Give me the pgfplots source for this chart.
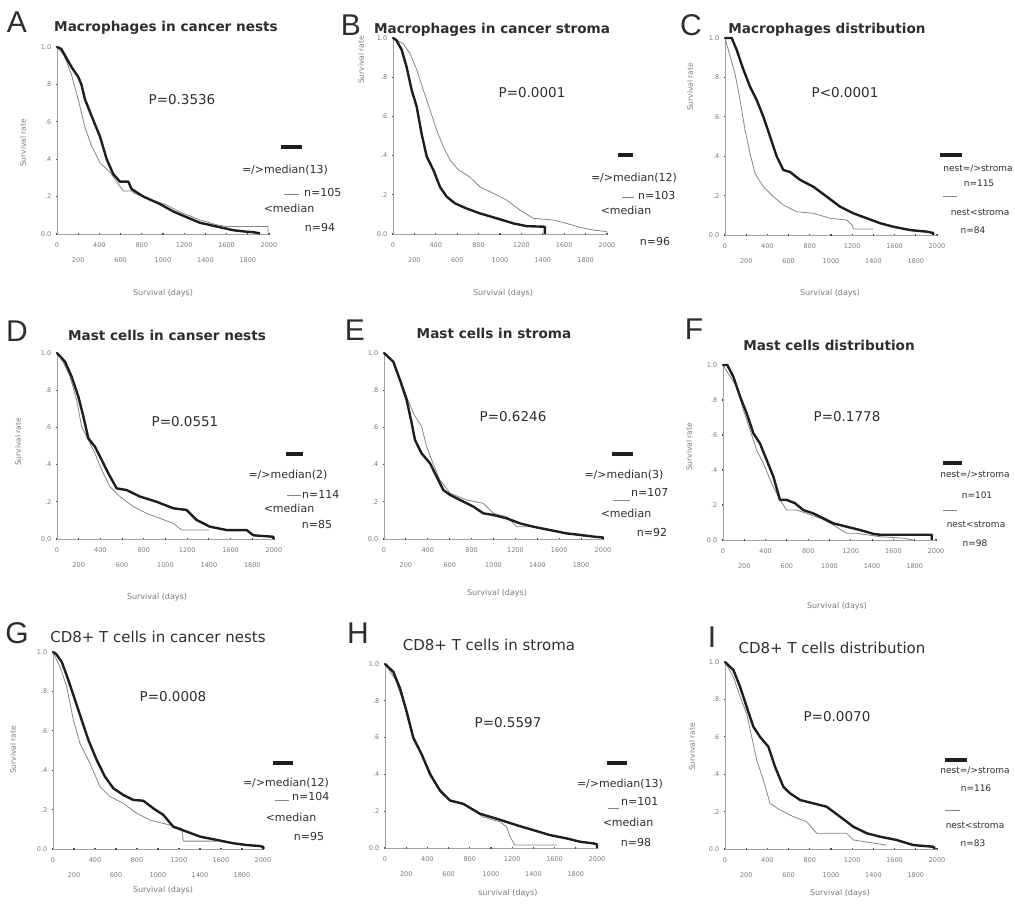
\documentclass[border=0pt]{standalone}
\usepackage{fontspec}
\setmainfont{DejaVu Sans}
\newfontfamily\letterfont{Liberation Sans}
\usepackage{pgfplots}
\pgfplotsset{compat=1.18}
\definecolor{thk}{HTML}{1E1E1E}
\definecolor{thn}{HTML}{858585}
\definecolor{axc}{HTML}{A0A0A0}
\definecolor{txt}{HTML}{2E2E2E}
\definecolor{lbl}{HTML}{7A7A7A}
\pgfplotsset{
  km/.style={scale only axis, anchor=south west,
    xmin=0, xmax=2000, ymin=0, ymax=1, clip=false,
    axis lines=left, axis line style={-, draw=axc, line width=0.9pt},
    xtick={0,400,800,1200,1600,2000}, xticklabels={0,400,800,1200,1600,2000},
    extra x ticks={200,600,1000,1400,1800}, extra x tick labels={200,600,1000,1400,1800},
    extra x tick style={tick label style={yshift=-15pt}},
    ytick={0,0.2,0.4,0.6,0.8,1}, yticklabels={0.0,.2,.4,.6,.8,1.0},
    tick style={draw=black!70, line width=1.1pt}, major tick length=2.5pt, tick align=center,
    tick label style={font=\fontsize{6.5}{7}\selectfont, text=lbl},
    xticklabel style={yshift=-4pt}, yticklabel style={xshift=-1pt}},
  thk/.style={draw=thk, line width=2.4pt, line join=round, sharp plot},
  thn/.style={draw=thn, line width=0.8pt, line join=round, sharp plot}
}
\newcommand{\Let}[3]{\node[font=\letterfont\fontsize{30}{30}\selectfont, text=txt] at (#1,#2) {#3};}
\newcommand{\Tb}[3]{\node[font=\bfseries\fontsize{13.6}{15}\selectfont, text=txt] at (#1,#2) {#3};}
\newcommand{\Tr}[3]{\node[font=\fontsize{15}{17}\selectfont, text=txt] at (#1,#2) {#3};}
\newcommand{\Pv}[3]{\node[font=\fontsize{13.5}{15}\selectfont, text=txt] at (#1,#2) {#3};}
\newcommand{\Lg}[3]{\node[font=\fontsize{11}{12}\selectfont, text=txt] at (#1,#2) {#3};}
\newcommand{\Lgw}[3]{\node[font=\fontsize{11}{12}\selectfont, text=txt, anchor=west, inner sep=0pt] at (#1,#2) {#3};}
\newcommand{\Ln}[3]{\node[font=\fontsize{9}{10}\selectfont, text=txt, inner sep=1pt] at (#1,#2) {#3};}
\newcommand{\Yl}[2]{\node[font=\fontsize{7.5}{8}\selectfont, text=lbl, rotate=90] at (#1,#2) {Survival rate};}
\newcommand{\Xl}[3]{\node[font=\fontsize{8}{9}\selectfont, text=lbl] at (#1,#2) {#3};}
\newcommand{\Bk}[3]{\draw[thk, line width=3.5pt] (#1,#3) -- (#2,#3);}
\newcommand{\Bn}[3]{\draw[thn, line width=0.9pt] (#1,#3) -- (#2,#3);}
\begin{document}
\begin{tikzpicture}
\path[use as bounding box] (0pt,0pt) rectangle (1015pt,912pt);
% ---------- A
\begin{axis}[km, at={(57pt,678pt)}, width=212pt, height=187pt]
\addplot[thn] coordinates {(0,1)(60,0.96)(91,0.92)(138,0.85)(200,0.72)(264,0.57)(327,0.47)(406,0.38)(500,0.33)(563,0.28)(626,0.23)(704,0.23)(720,0.22)(850,0.19)(1035,0.155)(1150,0.12)(1349,0.075)(1500,0.05)(1600,0.04)(1990,0.04)(1990,0)};
\addplot[thk] coordinates {(0,1)(40,0.99)(80,0.95)(140,0.89)(200,0.84)(230,0.80)(264,0.72)(327,0.63)(406,0.52)(469,0.40)(531,0.32)(594,0.28)(673,0.28)(704,0.24)(815,0.20)(972,0.16)(1098,0.12)(1223,0.09)(1349,0.06)(1506,0.04)(1664,0.02)(1790,0.012)(1850,0.01)(1915,0.003)};
\end{axis}
% ---------- B
\begin{axis}[km, at={(393pt,678pt)}, width=214pt, height=196pt]
\addplot[thn] coordinates {(0,1)(97,0.97)(159,0.92)(221,0.84)(283,0.735)(346,0.633)(408,0.53)(470,0.446)(533,0.378)(611,0.327)(720,0.29)(813,0.24)(938,0.207)(1062,0.173)(1187,0.122)(1311,0.08)(1498,0.071)(1623,0.054)(1747,0.034)(1872,0.02)(1997,0.012)(1997,0)};
\addplot[thk] coordinates {(0,1)(30,0.99)(81,0.94)(128,0.85)(174,0.735)(221,0.65)(268,0.51)(315,0.395)(377,0.327)(439,0.24)(502,0.19)(580,0.156)(688,0.13)(813,0.105)(969,0.08)(1125,0.054)(1250,0.04)(1420,0.037)(1420,0)};
\end{axis}
% ---------- C
\begin{axis}[km, at={(725pt,677pt)}, width=212pt, height=197pt]
\addplot[thn] coordinates {(0,1)(31,0.94)(94,0.82)(142,0.685)(189,0.533)(236,0.415)(283,0.313)(362,0.245)(456,0.195)(550,0.152)(676,0.118)(833,0.11)(991,0.085)(1148,0.076)(1200,0.05)(1210,0.03)(1400,0.03)};
\addplot[thk] coordinates {(0,1)(63,1)(110,0.94)(173,0.84)(236,0.753)(299,0.685)(362,0.6)(425,0.5)(487,0.4)(550,0.33)(613,0.32)(708,0.28)(833,0.245)(959,0.195)(1085,0.144)(1211,0.11)(1337,0.085)(1462,0.06)(1588,0.042)(1745,0.025)(1903,0.017)(1965,0.01)(1965,0)};
\end{axis}
% ---------- D
\begin{axis}[km, at={(57pt,373pt)}, width=217pt, height=186pt]
\addplot[thn] coordinates {(0,1)(58,0.95)(120,0.873)(181,0.747)(227,0.604)(289,0.532)(350,0.46)(412,0.371)(488,0.281)(580,0.228)(703,0.174)(826,0.138)(949,0.111)(1072,0.084)(1149,0.048)(1400,0.048)};
\addplot[thk] coordinates {(0,1)(74,0.953)(135,0.873)(197,0.765)(243,0.658)(289,0.541)(350,0.496)(412,0.425)(473,0.353)(550,0.272)(642,0.263)(765,0.228)(919,0.2)(1072,0.165)(1195,0.156)(1287,0.102)(1410,0.066)(1564,0.048)(1748,0.048)(1809,0.02)(1994,0.012)(1994,0)};
\end{axis}
% ---------- E
\begin{axis}[km, at={(384pt,373pt)}, width=219pt, height=186pt]
\addplot[thn] coordinates {(0,1)(85,0.95)(146,0.86)(207,0.765)(268,0.676)(344,0.604)(390,0.496)(435,0.425)(511,0.317)(603,0.246)(755,0.21)(907,0.192)(998,0.138)(1120,0.12)(1211,0.066)(1364,0.066)(1486,0.048)(1668,0.03)(1851,0.013)};
\addplot[thk] coordinates {(0,1)(85,0.953)(146,0.855)(207,0.747)(253,0.622)(283,0.532)(344,0.46)(420,0.407)(481,0.335)(542,0.263)(603,0.237)(694,0.21)(816,0.174)(907,0.138)(998,0.129)(1120,0.111)(1242,0.084)(1364,0.066)(1516,0.048)(1668,0.03)(1790,0.022)(1912,0.013)(2000,0.008)(2000,0)};
\end{axis}
% ---------- F
\begin{axis}[km, at={(723pt,372pt)}, width=213pt, height=175pt]
\addplot[thn] coordinates {(0,1)(30,0.97)(128,0.876)(191,0.743)(254,0.629)(316,0.514)(379,0.438)(457,0.324)(535,0.229)(598,0.171)(692,0.171)(786,0.152)(911,0.124)(1036,0.086)(1161,0.038)(1255,0.038)(1474,0.019)(1700,0.01)(1787,0)};
\addplot[thk] coordinates {(0,1)(40,1)(97,0.933)(160,0.82)(222,0.724)(285,0.61)(347,0.552)(410,0.457)(473,0.362)(535,0.229)(598,0.229)(676,0.21)(754,0.171)(848,0.152)(942,0.124)(1036,0.095)(1161,0.076)(1286,0.057)(1412,0.035)(1474,0.03)(1960,0.03)(1960,0)};
\end{axis}
% ---------- G
\begin{axis}[km, at={(53pt,63pt)}, width=210pt, height=197pt]
\addplot[thn] coordinates {(0,1)(67,0.925)(130,0.824)(194,0.655)(257,0.536)(352,0.435)(448,0.316)(543,0.266)(670,0.232)(797,0.181)(924,0.147)(1051,0.13)(1225,0.105)(1241,0.04)(1560,0.04)};
\addplot[thk] coordinates {(0,1)(30,0.99)(83,0.95)(146,0.858)(210,0.756)(273,0.655)(337,0.553)(416,0.452)(495,0.367)(575,0.308)(670,0.274)(765,0.249)(860,0.245)(956,0.206)(1051,0.173)(1146,0.113)(1273,0.088)(1400,0.063)(1559,0.046)(1718,0.029)(1845,0.02)(1972,0.015)(2003,0.01)(2003,0)};
\end{axis}
% ---------- H
\begin{axis}[km, at={(385pt,64pt)}, width=212pt, height=184pt]
\addplot[thn] coordinates {(0,1)(94,0.92)(173,0.796)(236,0.652)(299,0.554)(393,0.455)(487,0.339)(613,0.258)(770,0.231)(928,0.168)(1085,0.142)(1148,0.115)(1179,0.061)(1226,0.016)(1620,0.016)};
\addplot[thk] coordinates {(0,1)(79,0.957)(142,0.867)(204,0.742)(267,0.599)(346,0.509)(425,0.401)(519,0.312)(613,0.258)(739,0.24)(896,0.186)(1054,0.159)(1242,0.124)(1400,0.097)(1557,0.07)(1714,0.052)(1840,0.034)(1966,0.025)(2000,0.02)(2000,0)};
\end{axis}
% ---------- I
\begin{axis}[km, at={(725pt,63pt)}, width=212pt, height=187pt]
\addplot[thn] coordinates {(0,1)(79,0.92)(142,0.815)(204,0.725)(252,0.6)(299,0.476)(362,0.369)(425,0.244)(519,0.209)(645,0.173)(770,0.146)(865,0.084)(1148,0.084)(1211,0.048)(1525,0.021)};
\addplot[thk] coordinates {(0,1)(79,0.957)(142,0.868)(204,0.761)(267,0.654)(330,0.6)(409,0.547)(472,0.44)(550,0.333)(613,0.298)(708,0.262)(833,0.244)(959,0.226)(1085,0.173)(1211,0.119)(1337,0.084)(1462,0.066)(1620,0.048)(1777,0.021)(1966,0.012)(1980,0)};
\end{axis}
% ---------- texts (pixel coordinates, y downward)
\begin{scope}[x=1pt, y=-1pt, yshift=912pt]
\Let{17}{22}{A}\Let{351}{25}{B}\Let{691}{25}{C}
\Let{17}{331}{D}\Let{355}{330}{E}\Let{694}{329}{F}
\Let{17}{633}{G}\Let{358}{633}{H}\Let{712}{637}{I}
\Tb{166}{28}{Macrophages in cancer nests}
\Tb{492}{30}{Macrophages in cancer stroma}
\Tb{827}{30}{Macrophages distribution}
\Tb{167}{335}{Mast cells in canser nests}
\Tb{494}{333}{Mast cells in stroma}
\Tb{829}{345}{Mast cells distribution}
\Tr{158}{637}{CD8+ T cells in cancer nests}
\Tr{489}{645}{CD8+ T cells in stroma}
\Tr{832}{648}{CD8+ T cells distribution}
\Pv{182}{100}{P=0.3536}\Pv{532}{93}{P=0.0001}\Pv{845}{93}{P<0.0001}
\Pv{185}{422}{P=0.0551}\Pv{513}{417}{P=0.6246}\Pv{847}{417}{P=0.1778}
\Pv{173}{697}{P=0.0008}\Pv{508}{723}{P=0.5597}\Pv{837}{717}{P=0.0070}
% legends A
\Bk{281}{302}{147}\Lg{285}{170}{=/>median(13)}\Bn{284}{299}{194}\Lgw{304}{193}{n=105}\Lg{289}{208}{<median}\Lg{320}{228}{n=94}
% B
\Bk{618}{633}{155}\Lg{634}{178}{=/>median(12)}\Bn{622}{634}{197}\Lgw{638}{196}{n=103}\Lg{626}{210}{<median}\Lg{655}{242}{n=96}
% C
\Bk{940}{962}{155}\Ln{978}{169}{nest=/>stroma}\Ln{979}{183}{n=115}\Bn{943}{957}{196}\Ln{980}{212}{nest<stroma}\Ln{973}{230}{n=84}
% D
\Bk{286}{303}{454}\Lg{288}{475}{=/>median(2)}\Bn{287}{301}{495}\Lgw{302}{494}{n=114}\Lg{289}{508}{<median}\Lg{317}{525}{n=85}
% E
\Bk{612}{633}{454}\Lg{624}{475}{=/>median(3)}\Bn{613}{630}{500}\Lgw{631}{493}{n=107}\Lg{626}{513}{<median}\Lg{652}{533}{n=92}
% F
\Bk{943}{962}{463}\Ln{975}{475}{nest=/>stroma}\Ln{977}{495}{n=101}\Bn{943}{957}{510}\Ln{976}{524}{nest<stroma}\Ln{975}{543}{n=98}
% G
\Bk{273}{293}{763}\Lg{286}{783}{=/>median(12)}\Bn{275}{289}{800}\Lgw{292}{797}{n=104}\Lg{291}{817}{<median}\Lg{309}{837}{n=95}
% H
\Bk{607}{627}{763}\Lg{620}{784}{=/>median(13)}\Bn{608}{619}{808}\Lgw{621}{802}{n=101}\Lg{628}{822}{<median}\Lg{636}{843}{n=98}
% I
\Bk{945}{967}{760}\Ln{975}{771}{nest=/>stroma}\Ln{976}{788}{n=116}\Bn{945}{960}{810}\Ln{975}{825}{nest<stroma}\Ln{973}{843}{n=83}
% axis labels
\Yl{23}{143}\Yl{361}{60}\Yl{690}{87}\Yl{18}{442}\Yl{689}{447}\Yl{13}{750}\Yl{692}{747}
\Xl{163}{293}{Survival (days)}\Xl{503}{293}{Survival (days)}\Xl{830}{293}{Survival (days)}
\Xl{157}{597}{Survival (days)}\Xl{497}{593}{Survival (days)}\Xl{837}{606}{Survival (days)}
\Xl{163}{890}{Survival (days)}\Xl{508}{893}{survival (days)}\Xl{840}{893}{Survival (days)}
\end{scope}
\end{tikzpicture}
\end{document}
